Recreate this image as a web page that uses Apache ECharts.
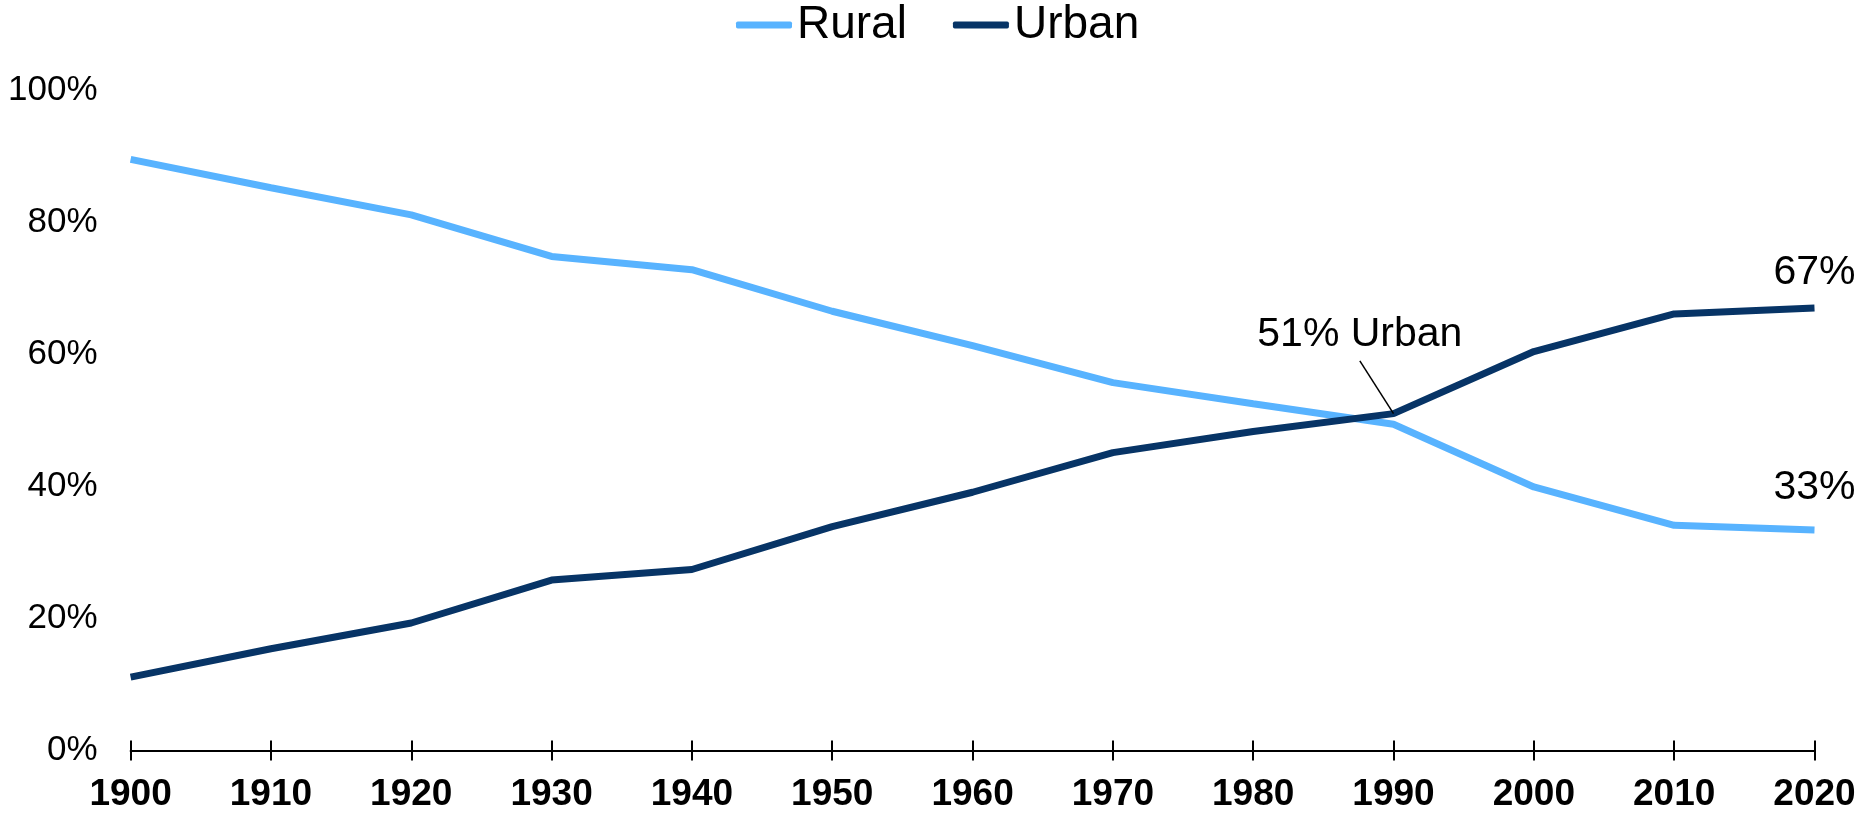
<!DOCTYPE html>
<html>
<head>
<meta charset="utf-8">
<script src="https://cdn.jsdelivr.net/npm/echarts@6/dist/echarts.min.js"></script>
<style>
  html, body { margin: 0; padding: 0; background: #fff; }
  #chart { width: 1862px; height: 814px; }
</style>
</head>
<body>
<div id="chart"></div>
<script>
const years = [1900, 1910, 1920, 1930, 1940, 1950, 1960, 1970, 1980, 1990, 2000, 2010, 2020];
const rural = [89.5, 85.2, 81.1, 74.8, 72.8, 66.5, 61.3, 55.7, 52.5, 49.4, 39.9, 34.1, 33.4];
const urban = [11.1, 15.4, 19.3, 25.8, 27.4, 33.9, 39.1, 45.1, 48.3, 51.0, 60.4, 66.1, 67.0];
const seriesNames = ['Rural', 'Urban'];
const yTicks = [0, 20, 40, 60, 80, 100];
const annotationText = '51% Urban';

const FONT = "'Liberation Sans', Arial, sans-serif";
const RURAL_COLOR = '#58B3FF';
const URBAN_COLOR = '#073466';

function buildData(vals) {
  return vals.map((v, i) => [years[i], v]);
}

function endLabelItem(vals, dist) {
  const last = vals.length - 1;
  return {
    coord: [years[last], vals[last]],
    label: {
      show: true,
      position: 'top',
      distance: dist,
      fontSize: 41,
      color: '#000',
      fontFamily: FONT,
      formatter: p => Math.round(p.data.coord[1]) + '%'
    }
  };
}

const chart = echarts.init(document.getElementById('chart'), null, { renderer: 'canvas' });

const xCommon = {
  type: 'value',
  position: 'bottom',
  min: years[0],
  max: years[years.length - 1],
  interval: 10,
  splitLine: { show: false },
  gridIndex: 0
};

chart.setOption({
  backgroundColor: '#fff',
  animation: false,
  textStyle: { fontFamily: FONT },
  legend: {
    data: seriesNames,
    left: 736,
    top: 2,
    padding: 0,
    itemGap: 46,
    itemWidth: 56,
    itemHeight: 7,
    icon: 'roundRect',
    textStyle: { fontSize: 46, color: '#000', fontFamily: FONT }
  },
  grid: {
    left: 130.6, right: 47.5, top: 90, bottom: 63.5,
    containLabel: false,
    outerBoundsMode: 'none'
  },
  xAxis: [
    Object.assign({}, xCommon, {
      axisLine: { show: true, lineStyle: { color: '#000', width: 2 } },
      axisTick: { show: true, inside: false, length: 10, lineStyle: { color: '#000', width: 2 } },
      axisLabel: {
        show: true,
        margin: 26,
        fontSize: 37,
        fontWeight: 'bold',
        color: '#000',
        fontFamily: FONT,
        formatter: v => String(v)
      }
    }),
    Object.assign({}, xCommon, {
      offset: 0,
      axisLine: { show: false },
      axisTick: { show: true, inside: true, length: 10, lineStyle: { color: '#000', width: 2 } },
      axisLabel: { show: false }
    })
  ],
  yAxis: {
    type: 'value',
    min: yTicks[0],
    max: yTicks[yTicks.length - 1],
    interval: yTicks[1] - yTicks[0],
    axisLine: { show: false },
    axisTick: { show: false },
    splitLine: { show: false },
    axisLabel: {
      margin: 33,
      fontSize: 35,
      color: '#000',
      fontFamily: FONT,
      formatter: '{value}%'
    }
  },
  series: [
    {
      name: seriesNames[0],
      type: 'line',
      xAxisIndex: 0,
      data: buildData(rural),
      symbol: 'none',
      lineStyle: { color: RURAL_COLOR, width: 7 },
      itemStyle: { color: RURAL_COLOR },
      markPoint: {
        silent: true,
        symbol: 'circle',
        symbolSize: 0,
        data: [endLabelItem(rural, 22)]
      }
    },
    {
      name: seriesNames[1],
      type: 'line',
      xAxisIndex: 0,
      data: buildData(urban),
      symbol: 'none',
      lineStyle: { color: URBAN_COLOR, width: 7 },
      itemStyle: { color: URBAN_COLOR },
      markLine: {
        silent: true,
        symbol: 'none',
        label: { show: false },
        lineStyle: { color: '#000', width: 1.5, type: 'solid' },
        data: [[{ coord: [years[9], urban[9]] }, { coord: [1987.6, 59] }]]
      },
      markPoint: {
        silent: true,
        symbol: 'circle',
        symbolSize: 0,
        data: [
          { coord: [1987.6, 62.9],
            label: { show: true, position: 'inside', formatter: annotationText,
                     fontSize: 41, color: '#000', fontFamily: FONT } },
          endLabelItem(urban, 15)
        ]
      }
    }
  ]
});
</script>
</body>
</html>
